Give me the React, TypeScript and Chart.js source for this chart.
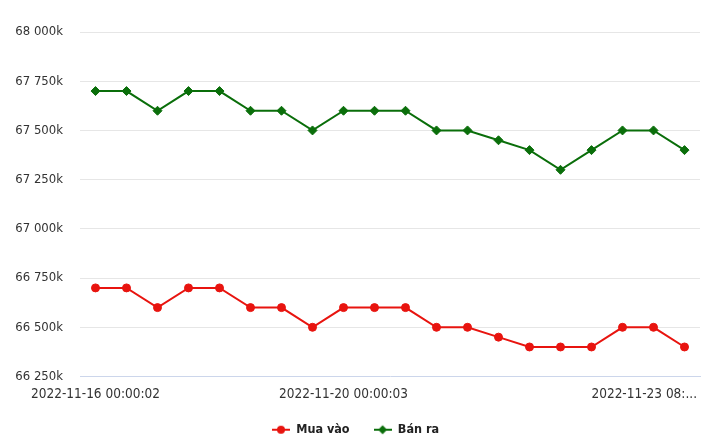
import React, { useEffect, useRef } from "react";
import { Chart, registerables } from "chart.js";

Chart.register(...registerables);

const categories = [
  "2022-11-16 00:00:02", "", "", "", "", "", "", "",
  "2022-11-20 00:00:03", "", "", "", "", "", "", "", "", "",
  "2022-11-23 08:...", "",
];
const muaVao = [66700, 66700, 66600, 66700, 66700, 66600, 66600, 66500, 66600, 66600, 66600, 66500, 66500, 66450, 66400, 66400, 66400, 66500, 66500, 66400];
const banRa = [67700, 67700, 67600, 67700, 67700, 67600, 67600, 67500, 67600, 67600, 67600, 67500, 67500, 67450, 67400, 67300, 67400, 67500, 67500, 67400];
const seriesNames = ["Mua vào", "Bán ra"];
const yMin = 66250;
const yMax = 68000;
const yStep = 250;

const RED = "#e8140f";
const GREEN = "#0a6e0a";
const FONT = "'DejaVu Sans Condensed', 'DejaVu Sans'";

function legendIcon(color: string, kind: "circle" | "diamond") {
  const c = document.createElement("canvas");
  c.width = 18;
  c.height = 12;
  const g = c.getContext("2d")!;
  g.strokeStyle = color;
  g.fillStyle = color;
  g.lineWidth = 2;
  g.beginPath();
  g.moveTo(0, 6);
  g.lineTo(18, 6);
  g.stroke();
  g.beginPath();
  if (kind === "circle") {
    g.arc(9, 6, 4, 0, Math.PI * 2);
  } else {
    g.moveTo(9, 1.5);
    g.lineTo(13.5, 6);
    g.lineTo(9, 10.5);
    g.lineTo(4.5, 6);
    g.closePath();
  }
  g.fill();
  return c;
}

function fmt(v: number) {
  return String(Math.round(v)).replace(/\B(?=(\d{3})+(?!\d))/g, " ") + "k";
}

const xLabelPlugin = {
  id: "xLabelPlugin",
  afterDraw(chart: any) {
    const ctx = chart.ctx;
    const xs = chart.scales.x;
    ctx.save();
    ctx.font = "13.5px " + FONT;
    ctx.fillStyle = "#333333";
    ctx.textBaseline = "middle";
    ctx.textAlign = "left";
    const maxRight = chart.width - 23;
    categories.forEach((lab, i) => {
      if (!lab) return;
      const w = ctx.measureText(lab).width;
      let left = xs.getPixelForValue(i) - w / 2;
      if (left + w > maxRight) left = maxRight - w;
      if (left < 0) left = 0;
      ctx.fillText(lab, left, chart.chartArea.bottom + 18);
    });
    ctx.restore();
  },
};

export default function App() {
  const ref = useRef<HTMLCanvasElement | null>(null);
  useEffect(() => {
    document.body.style.margin = "0";
    const icons = [legendIcon(RED, "circle"), legendIcon(GREEN, "diamond")];
    const chart = new Chart(ref.current!, {
      type: "line",
      data: {
        labels: categories,
        datasets: [
          {
            label: seriesNames[0],
            data: muaVao,
            borderColor: RED,
            backgroundColor: RED,
            borderWidth: 2,
            pointStyle: "circle",
            pointRadius: 4,
            pointBorderWidth: 1,
            pointBackgroundColor: RED,
            pointBorderColor: RED,
            tension: 0,
          },
          {
            label: seriesNames[1],
            data: banRa,
            borderColor: GREEN,
            backgroundColor: GREEN,
            borderWidth: 2,
            pointStyle: "rectRot",
            pointRadius: 4.5,
            pointBorderWidth: 1,
            pointBackgroundColor: GREEN,
            pointBorderColor: GREEN,
            tension: 0,
          },
        ],
      },
      options: {
        animation: false,
        responsive: false,
        layout: { padding: { left: 11, right: 20, top: 32, bottom: -2 } },
        plugins: {
          tooltip: { enabled: false },
          legend: {
            position: "bottom",
            labels: {
              usePointStyle: true,
              pointStyleWidth: 18,
              padding: 24,
              color: "#222222",
              font: { family: FONT, size: 12.5, weight: "bold" },
              generateLabels: (ch: any) => {
                const items = Chart.defaults.plugins.legend.labels.generateLabels(ch);
                items.forEach((it: any, i: number) => {
                  it.pointStyle = icons[i];
                });
                return items;
              },
            },
          },
        },
        scales: {
          x: {
            type: "category",
            offset: true,
            grid: { display: false },
            border: { color: "#ccd6eb", width: 1 },
            ticks: { display: false },
            afterFit: (s: any) => {
              s.height = 23;
            },
          },
          y: {
            min: yMin,
            max: yMax,
            border: { display: false },
            grid: {
              drawTicks: false,
              color: (c: any) => (c.tick && c.tick.value === yMin ? "rgba(0,0,0,0)" : "#e6e6e6"),
              lineWidth: 1,
            },
            ticks: {
              stepSize: yStep,
              padding: 17,
              color: "#333333",
              font: { family: FONT, size: 13 },
              callback: (v: any) => fmt(Number(v)),
            },
            afterFit: (s: any) => {
              s.width = 69;
            },
          },
        },
      },
      plugins: [xLabelPlugin],
    } as any);
    return () => chart.destroy();
  }, []);
  return (
    <div style={{ width: 720, height: 444, background: "#ffffff" }}>
      <canvas ref={ref} width={720} height={444} style={{ display: "block" }} />
    </div>
  );
}
